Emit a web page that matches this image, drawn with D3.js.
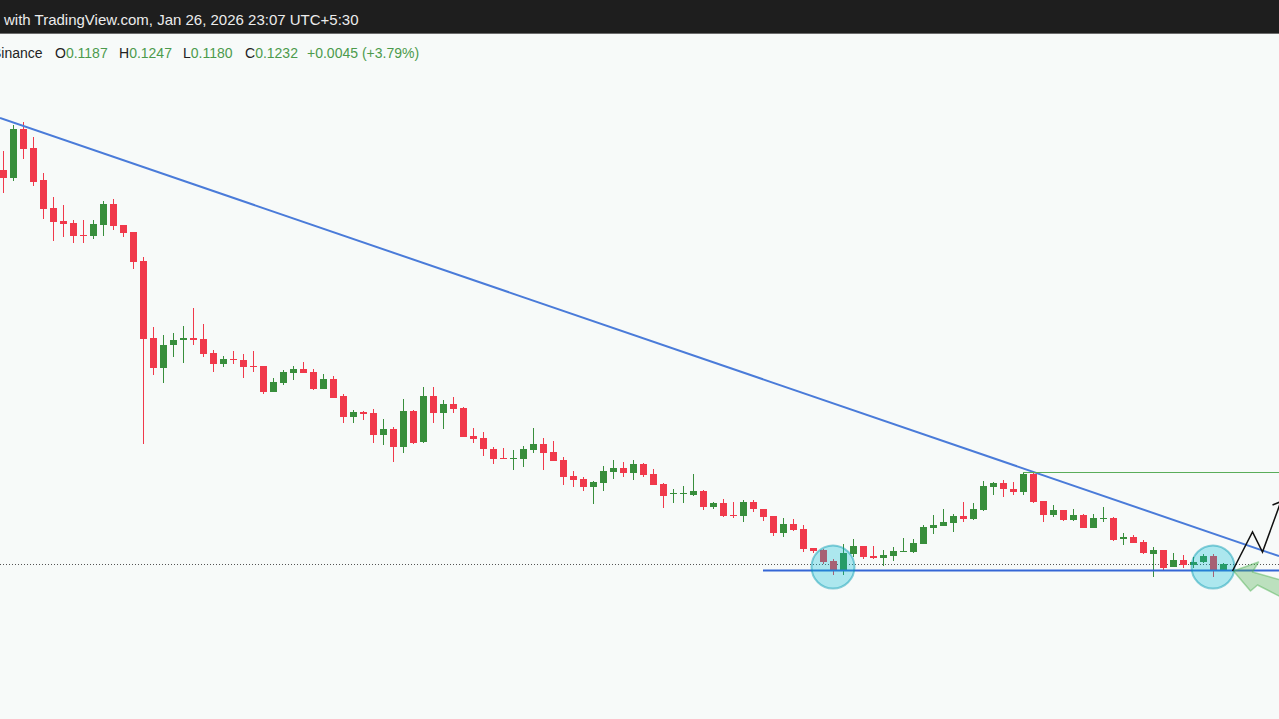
<!DOCTYPE html>
<html>
<head>
<meta charset="utf-8">
<script src="https://cdn.jsdelivr.net/npm/d3@7"></script>
<style>
  html, body { margin: 0; padding: 0; background: #f7faf9; overflow: hidden; }
  svg { display: block; }
</style>
</head>
<body>
<svg id="chart" width="1279" height="719"></svg>
<script>
// daily candles
var opens = [
  0.5172,0.5092,0.5582,0.5392,0.5072,0.4792,0.4662,0.4642,0.4522,0.4512,
  0.4622,0.4832,0.4622,0.4552,0.4262,0.3492,0.3192,0.3422,0.3472,0.3492,
  0.3482,0.3342,0.3232,0.3282,0.3272,0.3212,0.3212,0.2952,0.3042,0.3142,
  0.3182,0.3152,0.2982,0.3082,0.2912,0.2702,0.2752,0.2742,0.2522,0.2582,
  0.2402,0.2762,0.2452,0.2912,0.2742,0.2832,0.2792,0.2512,0.2492,0.2382,
  0.2292,0.2282,0.2282,0.2372,0.2432,0.2352,0.2272,0.2112,0.2082,0.2002,
  0.2042,0.2152,0.2192,0.2142,0.2232,0.2132,0.2032,0.1932,0.1932,0.1922,
  0.1962,0.1802,0.1842,0.1722,0.1712,0.1852,0.1782,0.1712,0.1542,0.1632,
  0.1582,0.1392,0.1372,0.1262,0.1172,0.1332,0.1412,0.1312,0.1292,0.1312,
  0.1352,0.1352,0.1432,0.1592,0.1612,0.1642,0.1712,0.1682,0.1772,0.2002,
  0.2042,0.1982,0.1952,0.2132,0.1862,0.1722,0.1772,0.1672,0.1722,0.1592,
  0.1682,0.1692,0.1482,0.1502,0.1452,0.1332,0.1372,0.1202,0.1272,0.1222,
  0.1252,0.1312,0.1172
];
var highs = [
  0.5362,0.5622,0.5652,0.5502,0.5142,0.4902,0.4822,0.4672,0.4672,0.4672,
  0.4862,0.4882,0.4622,0.4552,0.4302,0.3602,0.3522,0.3542,0.3612,0.3792,
  0.3632,0.3372,0.3312,0.3362,0.3332,0.3362,0.3212,0.3092,0.3172,0.3212,
  0.3252,0.3182,0.3132,0.3112,0.2932,0.2772,0.2762,0.2782,0.2682,0.2602,
  0.2882,0.2772,0.3002,0.3002,0.2872,0.2902,0.2802,0.2592,0.2552,0.2402,
  0.2392,0.2372,0.2412,0.2592,0.2492,0.2462,0.2302,0.2162,0.2102,0.2062,
  0.2212,0.2272,0.2252,0.2272,0.2242,0.2182,0.2042,0.1982,0.2012,0.2132,
  0.1972,0.1852,0.1882,0.1852,0.1872,0.1872,0.1782,0.1712,0.1692,0.1682,
  0.1622,0.1392,0.1382,0.1282,0.1432,0.1482,0.1412,0.1412,0.1372,0.1402,
  0.1492,0.1482,0.1622,0.1722,0.1782,0.1732,0.1852,0.1842,0.2062,0.2052,
  0.2072,0.2052,0.2152,0.2142,0.1862,0.1822,0.1772,0.1782,0.1732,0.1732,
  0.1802,0.1702,0.1542,0.1522,0.1472,0.1402,0.1372,0.1342,0.1322,0.1302,
  0.1332,0.1332,0.1242
];
var lows = [
  0.4942,0.5062,0.5282,0.5012,0.4682,0.4462,0.4502,0.4442,0.4442,0.4482,
  0.4512,0.4572,0.4502,0.4182,0.2432,0.3122,0.3042,0.3302,0.3242,0.3422,
  0.3302,0.3152,0.3202,0.3232,0.3092,0.3152,0.2932,0.2952,0.3022,0.3072,
  0.3142,0.2972,0.2982,0.2892,0.2642,0.2642,0.2672,0.2442,0.2422,0.2252,
  0.2342,0.2432,0.2442,0.2642,0.2582,0.2742,0.2502,0.2442,0.2312,0.2232,
  0.2282,0.2172,0.2202,0.2342,0.2172,0.2262,0.2022,0.2002,0.1962,0.1832,
  0.1962,0.2082,0.2102,0.2072,0.2102,0.2022,0.1792,0.1842,0.1842,0.1912,
  0.1772,0.1782,0.1702,0.1692,0.1652,0.1752,0.1662,0.1512,0.1502,0.1562,
  0.1352,0.1342,0.1232,0.1122,0.1122,0.1302,0.1282,0.1282,0.1212,0.1262,
  0.1352,0.1342,0.1432,0.1532,0.1612,0.1552,0.1652,0.1672,0.1762,0.1922,
  0.1902,0.1922,0.1922,0.1842,0.1652,0.1702,0.1662,0.1662,0.1592,0.1592,
  0.1652,0.1462,0.1422,0.1442,0.1332,0.1102,0.1172,0.1202,0.1192,0.1192,
  0.1242,0.1102,0.1162
];
var closes = [
  0.5092,0.5582,0.5382,0.5052,0.4782,0.4652,0.4632,0.4512,0.4512,0.4632,
  0.4832,0.4612,0.4542,0.4252,0.3482,0.3192,0.3422,0.3472,0.3492,0.3472,
  0.3332,0.3232,0.3282,0.3272,0.3202,0.3202,0.2952,0.3052,0.3152,0.3182,
  0.3142,0.2982,0.3082,0.2892,0.2702,0.2752,0.2732,0.2522,0.2582,0.2402,
  0.2762,0.2442,0.2912,0.2742,0.2832,0.2782,0.2502,0.2482,0.2382,0.2282,
  0.2282,0.2292,0.2382,0.2432,0.2342,0.2262,0.2102,0.2072,0.2002,0.2052,
  0.2162,0.2192,0.2142,0.2232,0.2122,0.2022,0.1912,0.1942,0.1942,0.1962,
  0.1802,0.1842,0.1712,0.1712,0.1852,0.1782,0.1702,0.1542,0.1632,0.1572,
  0.1382,0.1362,0.1252,0.1172,0.1342,0.1412,0.1302,0.1292,0.1322,0.1362,
  0.1362,0.1442,0.1602,0.1622,0.1652,0.1712,0.1682,0.1782,0.2012,0.2042,
  0.1982,0.1952,0.2132,0.1852,0.1722,0.1772,0.1672,0.1722,0.1592,0.1692,
  0.1692,0.1472,0.1502,0.1442,0.1342,0.1372,0.1192,0.1272,0.1222,0.1252,
  0.1312,0.1172,0.1232
];

// drawings: [candle index, price]
var trendAnchors = [[0, 0.5682], [122, 0.1503]];
var supportLevel = 0.1167, supportFrom = 76;
var resistLevel = 0.2152, resistFrom = 102;
var lastPrice = 0.1232;
var circleMarks = [[83, 0.1202], [121, 0.1202]];
var zigzag = [[122.95, 0.1162], [124.95, 0.1552], [125.95, 0.1352], [127.7, 0.1832]];
var zigzagHead = [[126.95, 0.1822], [127.7, 0.1852]];
var greenArrow = [[123.05, 0.1162], [125.55, 0.1252], [124.95, 0.1152], [127.8, 0.1072],
                  [127.8, 0.0902], [125.45, 0.1022], [124.75, 0.0962]];

var legendItems = [["O", "0.1187"], ["H", "0.1247"], ["L", "0.1180"], ["C", "0.1232"]];
var legendChange = "+0.0045 (+3.79%)";

var W = 1279, H = 719;
var upColor = "#388e3c", downColor = "#f0394b";

var svg = d3.select('#chart');
var days = d3.range(opens.length);

var x = d3.scaleBand().domain(days).range([-2, 1228]).paddingInner(0.3).paddingOuter(0.15);
var y = d3.scaleLinear().domain([0.6872, -0.0318]).range([0, H]);

function cx(i) { return x(0) + x.bandwidth() / 2 + i * x.step(); }

svg.append('rect').attr('width', W).attr('height', H).attr('fill', '#f7faf9');

// price line (dotted)
svg.append('line')
    .attr('x1', 0).attr('x2', W)
    .attr('y1', Math.round(y(lastPrice)) + 0.5).attr('y2', Math.round(y(lastPrice)) + 0.5)
    .attr('stroke', '#555').attr('stroke-width', 1).attr('stroke-dasharray', '1,2');

// candles
var candles = svg.append('g').selectAll('g').data(days).enter().append('g');
candles.append('line')
    .attr('x1', function (i) { return Math.round(cx(i)) + 0.5; })
    .attr('x2', function (i) { return Math.round(cx(i)) + 0.5; })
    .attr('y1', function (i) { return y(highs[i]); })
    .attr('y2', function (i) { return y(lows[i]); })
    .attr('stroke', function (i) { return closes[i] >= opens[i] ? upColor : downColor; })
    .attr('stroke-width', 1);
candles.append('rect')
    .attr('x', function (i) { return Math.round(cx(i)) - 3; })
    .attr('width', 7)
    .attr('y', function (i) { return y(Math.max(opens[i], closes[i])); })
    .attr('height', function (i) { return Math.max(1, Math.abs(y(opens[i]) - y(closes[i]))); })
    .attr('fill', function (i) { return closes[i] >= opens[i] ? upColor : downColor; });

// descending trendline, extended to both edges
var t0 = trendAnchors[0], t1 = trendAnchors[1];
var slope = (y(t1[1]) - y(t0[1])) / (cx(t1[0]) - cx(t0[0]));
var ty0 = y(t0[1]) - slope * cx(t0[0]);
svg.append('line')
    .attr('x1', 0).attr('y1', ty0)
    .attr('x2', W).attr('y2', ty0 + slope * W)
    .attr('stroke', '#4a7bd9').attr('stroke-width', 2);

// support line
svg.append('line')
    .attr('x1', cx(supportFrom)).attr('x2', W)
    .attr('y1', y(supportLevel)).attr('y2', y(supportLevel))
    .attr('stroke', '#3566d6').attr('stroke-width', 2);

// resistance (green) line
svg.append('line')
    .attr('x1', cx(resistFrom)).attr('x2', W)
    .attr('y1', Math.round(y(resistLevel)) + 0.5).attr('y2', Math.round(y(resistLevel)) + 0.5)
    .attr('stroke', '#5aad5a').attr('stroke-width', 1);

// highlight circles
svg.append('g').selectAll('circle').data(circleMarks).enter().append('circle')
    .attr('cx', function (d) { return cx(d[0]); })
    .attr('cy', function (d) { return y(d[1]); })
    .attr('r', 21.5)
    .attr('fill', 'rgba(0,188,212,0.3)')
    .attr('stroke', 'rgba(0,150,175,0.45)')
    .attr('stroke-width', 2);

// green arrow
var pt = function (d) { return [cx(d[0]), y(d[1])]; };
svg.append('path')
    .attr('d', d3.line()(greenArrow.map(pt)) + 'Z')
    .attr('fill', 'rgba(76,175,80,0.35)')
    .attr('stroke', 'rgba(76,175,80,0.45)')
    .attr('stroke-width', 1.5)
    .attr('stroke-linejoin', 'round');

// projected path
svg.append('path')
    .attr('d', d3.line()(zigzag.map(pt)))
    .attr('fill', 'none').attr('stroke', '#111').attr('stroke-width', 1.5);
svg.append('path')
    .attr('d', d3.line()(zigzagHead.map(pt)))
    .attr('fill', 'none').attr('stroke', '#111').attr('stroke-width', 1.5);

// top bar
svg.append('rect').attr('x', 0).attr('y', 0).attr('width', W).attr('height', 33).attr('fill', '#1e1e1e');
svg.append('line').attr('x1', 0).attr('x2', W).attr('y1', 33.5).attr('y2', 33.5).attr('stroke', '#6b6b6b');
svg.append('text')
    .attr('x', 4).attr('y', 25)
    .attr('fill', '#ececec')
    .style('font', '15px "Liberation Sans", Arial, sans-serif')
    .text('with TradingView.com, Jan 26, 2026 23:07 UTC+5:30');

// legend
var legend = svg.append('g').style('font', '14px "Liberation Sans", Arial, sans-serif');
legend.append('text').attr('x', -8).attr('y', 58).attr('fill', '#222').text('Binance');
var legendX = [55, 119, 183, 245];
legendItems.forEach(function (d, k) {
    var t = legend.append('text').attr('x', legendX[k]).attr('y', 58);
    t.append('tspan').attr('fill', '#222').text(d[0]);
    t.append('tspan').attr('fill', '#4c9a4c').text(d[1]);
});
legend.append('text').attr('x', 307).attr('y', 58).attr('fill', '#4c9a4c').text(legendChange);
</script>
</body>
</html>
